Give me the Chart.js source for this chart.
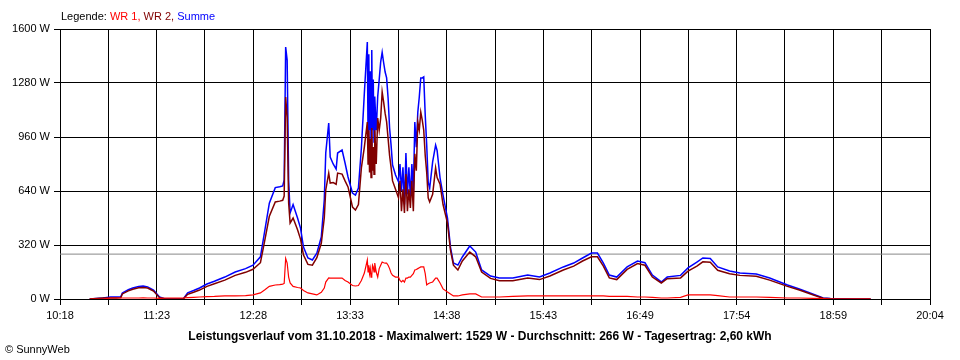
<!DOCTYPE html>
<html>
<head>
<meta charset="utf-8">
<script src="https://cdn.jsdelivr.net/npm/chart.js@4.4.0/dist/chart.umd.min.js"></script>
<style>
  body { margin: 0; background: #fff; }
  #wrap { position: relative; width: 960px; height: 360px; font-family: "Liberation Sans", Arial, sans-serif; font-size: 11px; }
  #chart { position: absolute; left: 0; top: 0; }
  .txt { position: absolute; white-space: nowrap; line-height: 13px; }
  #legend { left: 61px; top: 10px; }
  #title { left: 0; width: 960px; text-align: center; top: 329px; font-weight: bold; font-size: 12px; line-height: 14px; }
  #copy { left: 5px; top: 343px; }
</style>
</head>
<body>
<div id="wrap">
  <canvas id="chart" width="960" height="360"></canvas>
  <div class="txt" id="legend">Legende: <span style="color:#ff0000">WR 1,</span> <span style="color:#800000">WR 2,</span> <span style="color:#0000ff">Summe</span></div>
  <div class="txt" id="title">Leistungsverlauf vom 31.10.2018 - Maximalwert: 1529 W - Durchschnitt: 266 W - Tagesertrag: 2,60 kWh</div>
  <div class="txt" id="copy">© SunnyWeb</div>
</div>
<script>
// values (W)
const TIMES = [
  "10:38","10:47","10:52","10:56","10:59","11:00","11:04","11:07","11:11","11:14","11:17","11:21",
  "11:25","11:29","11:41","11:44","11:48","11:52","11:57","12:02","12:09","12:16","12:23","12:28",
  "12:33","12:36","12:39","12:43","12:46","12:48","12:49","12:50","12:51","12:52","12:53","12:55",
  "12:58","13:00","13:02","13:05","13:08","13:11","13:14","13:16","13:17","13:19","13:20","13:22",
  "13:24","13:25","13:28","13:30","13:32","13:35","13:37","13:39","13:41","13:43","13:45","13:45:30",
  "13:46","13:46:30","13:47","13:47:30","13:48","13:48:30","13:49","13:49:30","13:50","13:51","13:52","13:53",
  "13:54","13:55","13:56","13:57","13:58","13:59","14:00","14:01","14:02","14:04","14:06","14:07",
  "14:08","14:09","14:10","14:11","14:12","14:13","14:14","14:15","14:16","14:17","14:18","14:19",
  "14:20","14:21","14:22","14:23","14:24","14:25","14:26","14:27","14:29","14:31","14:32","14:34",
  "14:36","14:39","14:41","14:43","14:46","14:49","14:54","14:58","15:02","15:08","15:14","15:23",
  "15:33","15:41","15:48","15:57","16:04","16:10","16:16","16:20","16:24","16:28","16:33","16:40",
  "16:47","16:52","16:57","17:03","17:07","17:16","17:21","17:27","17:31","17:36","17:41","17:49",
  "17:56","18:07","18:16","18:28","18:36","18:45","18:52","18:57","19:15","19:24"
];
const SUMME = [
  0, 6, 12, 12, 14, 36, 55, 65, 74, 77, 72, 53,
  12, 0, 0, 36, 50, 65, 89, 105, 130, 160, 180, 200,
  250, 408, 568, 660, 665, 670, 705, 1493, 1416, 705, 510, 560,
  480, 420, 308, 243, 231, 272, 367, 587, 865, 1043, 841, 800,
  770, 865, 883, 806, 723, 628, 616, 657, 895, 1220, 1523, 950,
  1450, 1000, 1350, 912, 1476, 1000, 1300, 930, 1200, 1000, 1200, 1300,
  1405, 1462, 1400, 1345, 1310, 1190, 1013, 912, 794, 735, 695, 800,
  640, 780, 560, 865, 620, 780, 600, 800, 640, 1049, 900, 1107,
  1197, 1310, 1310, 1316, 1090, 912, 693, 657, 812, 912, 880, 717,
  616, 480, 308, 213, 201, 249, 314, 278, 172, 136, 124, 124,
  142, 130, 154, 190, 213, 243, 272, 272, 213, 142, 130, 190,
  225, 215, 142, 101, 130, 140, 184, 219, 243, 240, 190, 166,
  154, 148, 124, 83, 59, 30, 6, 3, 0, 0
];
const WR2 = [
  0, 6, 6, 6, 8, 30, 48, 58, 67, 68, 65, 47,
  8, 0, 0, 28, 40, 53, 75, 90, 112, 140, 158, 176,
  215, 350, 490, 575, 580, 585, 610, 1197, 1078, 570, 450, 480,
  410, 355, 260, 205, 200, 245, 330, 480, 646, 746, 687, 690,
  680, 746, 740, 700, 664, 545, 527, 560, 777, 900, 1049, 800,
  1000, 750, 950, 720, 1013, 760, 900, 740, 1000, 800, 1072, 1000,
  1072, 1227, 1167, 1100, 1050, 950, 850, 780, 700, 650, 600, 700,
  520, 650, 510, 740, 520, 650, 540, 700, 520, 860, 760, 1050,
  1000, 1107, 1060, 1000, 850, 750, 600, 575, 620, 777, 720, 680,
  560, 450, 290, 200, 172, 225, 278, 250, 160, 122, 108, 108,
  124, 115, 136, 172, 195, 225, 250, 250, 195, 125, 115, 175,
  210, 200, 130, 95, 120, 125, 165, 195, 220, 218, 170, 150,
  140, 135, 112, 75, 53, 25, 4, 2, 0, 0
];
const WR1 = [
  0, 0, 6, 6, 6, 6, 6, 6, 6, 7, 6, 6,
  4, 6, 6, 8, 10, 12, 14, 15, 18, 18, 20, 24,
  36, 55, 75, 83, 85, 88, 92, 240, 213, 130, 95, 75,
  68, 65, 50, 36, 30, 24, 40, 65, 100, 125, 124, 124,
  124, 124, 124, 110, 101, 80, 77, 80, 110, 154, 231, 160,
  200, 150, 180, 130, 140, 200, 190, 160, 213, 160, 130, 180,
  200, 219, 215, 213, 213, 200, 180, 154, 140, 130, 130, 110,
  101, 110, 100, 124, 124, 130, 130, 140, 150, 172, 175, 180,
  185, 190, 190, 190, 150, 83, 90, 95, 101, 124, 124, 95,
  60, 41, 30, 18, 18, 24, 30, 30, 12, 12, 12, 15,
  18, 18, 18, 18, 18, 18, 18, 18, 18, 15, 15, 15,
  12, 12, 10, 6, 6, 10, 24, 24, 24, 24, 20, 12,
  12, 12, 10, 6, 6, 4, 2, 0, 0, 0
];
const AVERAGE = 266;
const X_START = "10:18";
const X_END = "20:04";
const X_LABELS = ["10:18", "11:23", "12:28", "13:33", "14:38", "15:43", "16:49", "17:54", "18:59", "20:04"];
const Y_MAX = 1600;
const Y_STEP = 320;

// "HH:MM" or "HH:MM:SS" -> minutes since midnight
function toMin(s) {
  const [h, m, sec = 0] = s.split(":").map(Number);
  return h * 60 + m + sec / 60;
}

const xMin = toMin(X_START);
const xMax = toMin(X_END);
const GRID_STEPS = (X_LABELS.length - 1) * 2;

function series(values) {
  return TIMES.map((t, i) => ({ x: toMin(t), y: values[i] }));
}

const font = { family: "'Liberation Sans', Arial, sans-serif", size: 11 };

new Chart(document.getElementById("chart"), {
  type: "line",
  data: {
    datasets: [
      { label: "WR 1", data: series(WR1), borderColor: "#ff0000", borderWidth: 1.2 },
      { label: "WR 2", data: series(WR2), borderColor: "#800000", borderWidth: 1.5 },
      { label: "Summe", data: series(SUMME), borderColor: "#0000ff", borderWidth: 1.5 },
      { label: "Durchschnitt", data: [{ x: xMin, y: AVERAGE }, { x: xMax, y: AVERAGE }], borderColor: "#888888", borderWidth: 1 },
    ],
  },
  options: {
    responsive: false,
    animation: false,
    events: [],
    elements: { point: { radius: 0 }, line: { tension: 0, borderJoinStyle: "miter" } },
    layout: { padding: { top: 29, right: 30, left: 0, bottom: 0 } },
    plugins: { legend: { display: false }, tooltip: { enabled: false } },
    scales: {
      x: {
        type: "linear",
        min: xMin,
        max: xMax,
        afterBuildTicks: (scale) => {
          scale.ticks = [];
          for (let i = 0; i <= GRID_STEPS; i++) {
            scale.ticks.push({ value: xMin + (i * (xMax - xMin)) / GRID_STEPS });
          }
        },
        afterFit: (scale) => { scale.height = 61; },
        ticks: {
          autoSkip: false,
          maxRotation: 0,
          padding: 4,
          color: "#000",
          font,
          callback: (v, i) => (i % 2 === 0 ? X_LABELS[i / 2] : ""),
        },
        grid: { color: "#000", lineWidth: 1, tickLength: 6 },
        border: { color: "#000" },
      },
      y: {
        min: 0,
        max: Y_MAX,
        afterFit: (scale) => { scale.width = 60; },
        ticks: {
          stepSize: Y_STEP,
          padding: 4,
          color: "#000",
          font,
          callback: (v) => v + " W",
        },
        grid: { color: "#000", lineWidth: 1, tickLength: 6 },
        border: { color: "#000" },
      },
    },
  },
});
</script>
</body>
</html>
